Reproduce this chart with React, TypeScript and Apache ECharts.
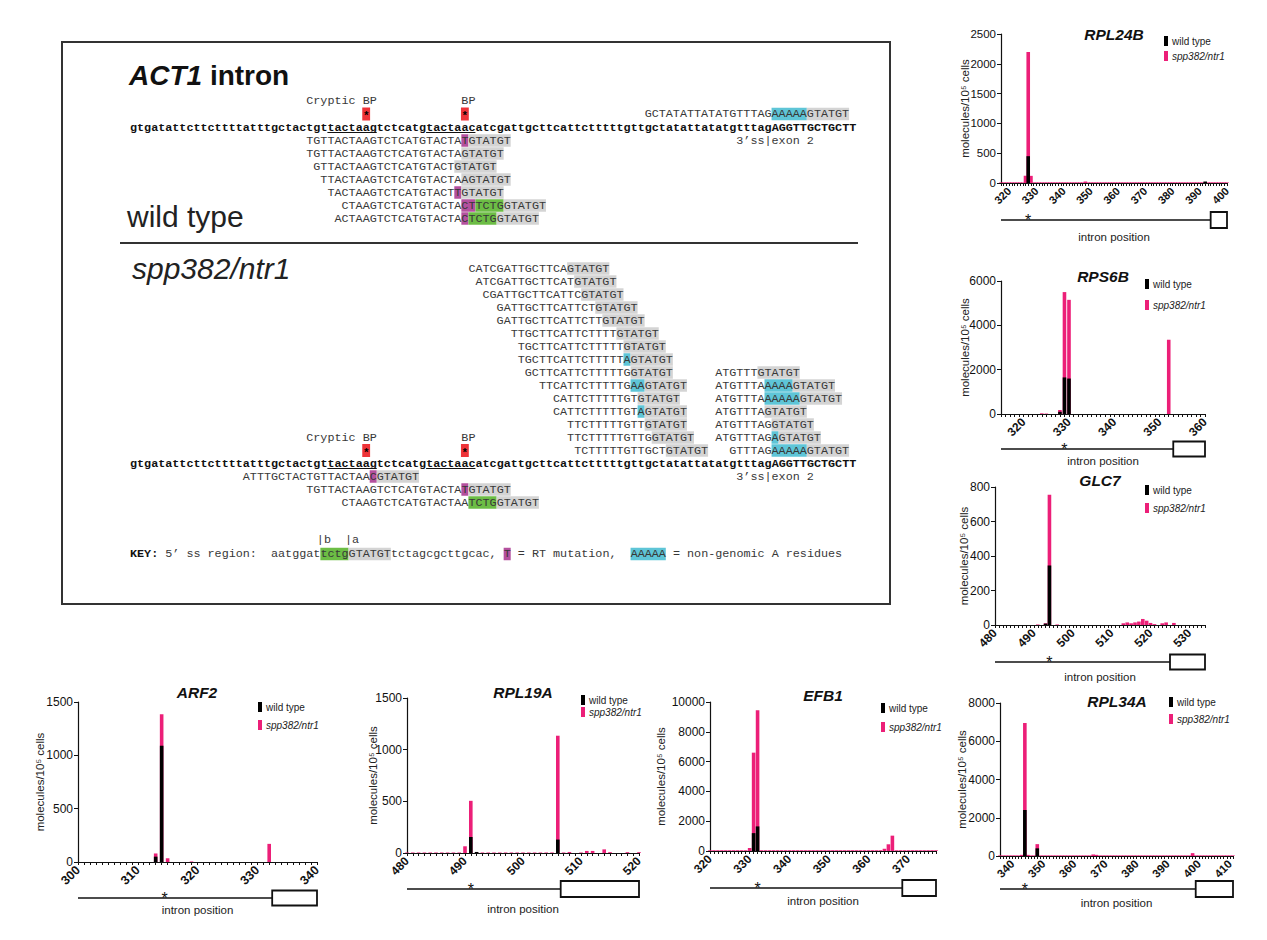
import React, { useEffect, useRef } from 'react';
import * as echarts from 'echarts';

// ================= CHART DATA =================
// sparse lists are [intron position, molecules/10^5 cells]; dense lists start at *_START
const ARF2_X_LABELS = [300, 310, 320, 330, 340];
const ARF2_WT: number[][] = [[313, 50], [314, 1090]];
const ARF2_MUT: number[][] = [[313, 80], [314, 1385], [315, 35], [319, 5], [332, 170]];

const RPL19A_X_LABELS = [480, 490, 500, 510, 520];
const RPL19A_WT: number[][] = [[491, 155], [492, 10], [506, 130]];
const RPL19A_MUT_START = 480;
const RPL19A_MUT = [
  5, 5, 5, 5, 5, 5, 5, 5, 5, 5,
  65, 505,
  5, 5, 5, 5, 5, 5, 5, 5, 5, 5, 5, 5, 5, 5,
  1135, 5, 10, 0, 5, 20, 20, 0, 35, 8, 0, 0, 8, 0, 8,
];

const EFB1_X_LABELS = [320, 330, 340, 350, 360, 370];
const EFB1_WT: number[][] = [[331, 1200], [332, 1650]];
const EFB1_MUT_START = 320;
const EFB1_MUT = [
  50, 50, 50, 50, 50, 50, 50, 50, 50, 50,
  200, 6600, 9450,
  50, 50, 50, 50, 50, 50, 50, 50, 50, 50,
  50, 50, 50, 50, 50, 50, 50, 50, 50, 50,
  50, 50, 50, 50, 50, 50, 50, 50, 50, 50,
  50,
  150, 450, 1030,
  50, 50, 50, 50, 50, 50, 50, 50, 50, 50, 50,
];

const RPL24B_X_LABELS = [320, 330, 340, 350, 360, 370, 380, 390, 400];
const RPL24B_WT: number[][] = [[327, 450], [392, 25]];
const RPL24B_MUT_START = 317;
const RPL24B_MUT = [
  10, 10, 10, 10, 10, 10, 10, 10, 10,
  120, 2200, 120,
  10, 10, 10, 10, 10, 10, 10, 10, 10, 10,
  10, 10, 10, 10, 10, 10, 10, 10, 10,
  25,
  10, 10, 10, 10, 10, 10, 10, 10, 10, 10,
  10, 10, 10, 10, 10, 10, 10, 10, 10, 10,
  10, 10, 10, 10, 10, 10, 10, 10, 10, 10,
  10, 10, 10, 10, 10, 10, 10, 10, 10, 10,
  10, 10, 10, 10, 10, 10, 10, 10, 10, 10,
  10, 10,
];

const RPS6B_X_LABELS = [320, 330, 340, 350, 360];
const RPS6B_WT: number[][] = [[328, 100], [329, 1650], [330, 1600]];
const RPS6B_MUT: number[][] = [[324, 30], [325, 20], [328, 180], [329, 5500], [330, 5150], [352, 3350]];

const GLC7_X_LABELS = [480, 490, 500, 510, 520, 530];
const GLC7_WT: number[][] = [[493, 8], [494, 345]];
const GLC7_MUT: number[][] = [
  [491, 3], [493, 10], [494, 755], [496, 3], [513, 10], [514, 15], [515, 10], [516, 15],
  [517, 20], [518, 35], [519, 25], [520, 12], [521, 5], [523, 10], [524, 15], [526, 12],
];

const RPL34A_X_LABELS = [340, 350, 360, 370, 380, 390, 400, 410];
const RPL34A_WT: number[][] = [[344, 2400], [348, 400]];
const RPL34A_MUT_START = 336;
const RPL34A_MUT = [
  30, 30, 30, 30, 30, 30, 30,
  60, 6950, 60,
  30, 30,
  620,
  30, 30, 30, 30, 30, 30, 30, 30, 30, 30,
  30, 30, 30, 30, 30, 30, 30,
  80, 60,
  30, 30, 30, 30, 30, 30, 30, 30, 30, 30,
  30, 30, 30, 30, 30, 30, 30, 30, 30, 30,
  30, 30, 30, 30, 30, 30, 30, 30, 30, 30,
  150,
  30, 30, 30, 30, 30, 30, 30, 30, 30, 30,
  30, 30, 30,
];

// intron diagram: 3' splice site (exon start) and branch-point asterisk positions
const EXON_STARTS = { RPL24B: 394, RPS6B: 353, GLC7: 525, RPL34A: 399, ARF2: 332.5, RPL19A: 506.5, EFB1: 368.5 };
const BP_POSITIONS = { RPL24B: 327, RPS6B: 329, GLC7: 494, RPL34A: 344, ARF2: 314.5, RPL19A: 491, EFB1: 332 };

const dense = (start: number, arr: number[]) => arr.map((v, i) => [start + i, v]);

const CHARTS = [
  { title: 'RPL24B', wt: RPL24B_WT, mut: dense(RPL24B_MUT_START, RPL24B_MUT), xMin: 317, xMax: 400, xLabels: RPL24B_X_LABELS, yMax: 2500, yStep: 500 },
  { title: 'RPS6B', wt: RPS6B_WT, mut: RPS6B_MUT, xMin: 315, xMax: 360, xLabels: RPS6B_X_LABELS, yMax: 6000, yStep: 2000 },
  { title: 'GLC7', wt: GLC7_WT, mut: GLC7_MUT, xMin: 480, xMax: 534, xLabels: GLC7_X_LABELS, yMax: 800, yStep: 200 },
  { title: 'RPL34A', wt: RPL34A_WT, mut: dense(RPL34A_MUT_START, RPL34A_MUT), xMin: 336, xMax: 411, xLabels: RPL34A_X_LABELS, yMax: 8000, yStep: 2000 },
  { title: 'ARF2', wt: ARF2_WT, mut: ARF2_MUT, xMin: 300, xMax: 340, xLabels: ARF2_X_LABELS, yMax: 1500, yStep: 500 },
  { title: 'RPL19A', wt: RPL19A_WT, mut: dense(RPL19A_MUT_START, RPL19A_MUT), xMin: 480, xMax: 520, xLabels: RPL19A_X_LABELS, yMax: 1500, yStep: 500 },
  { title: 'EFB1', wt: EFB1_WT, mut: dense(EFB1_MUT_START, EFB1_MUT), xMin: 320, xMax: 377, xLabels: EFB1_X_LABELS, yMax: 10000, yStep: 2000 },
];

// ================= SEQUENCE PANEL DATA =================
const GENOMIC = 'gtgatattcttcttttatttgctactgttactaagtctcatgtactaacatcgattgcttcattctttttgttgctatattatatgtttagAGGTTGCTGCTT';
const UNDERLINES = [[28, 7], [42, 7]];
const BP_MARKS = [33, 47];
// [start index on genomic, read, highlights [offset, length, kind]]
type Read = [number, string, [number, number, string][]];
const WT_TOP: Read = [73, 'GCTATATTATATGTTTAGAAAAAGTATGT', [[18, 5, 'b'], [23, 6, 'g']]];
const WT_READS: Read[] = [
  [25, 'TGTTACTAAGTCTCATGTACTATGTATGT', [[22, 1, 'm'], [23, 6, 'g']]],
  [25, 'TGTTACTAAGTCTCATGTACTAGTATGT', [[22, 6, 'g']]],
  [26, 'GTTACTAAGTCTCATGTACTGTATGT', [[20, 6, 'g']]],
  [27, 'TTACTAAGTCTCATGTACTAAGTATGT', [[20, 7, 'g']]],
  [28, 'TACTAAGTCTCATGTACTTGTATGT', [[18, 1, 'm'], [19, 6, 'g']]],
  [30, 'CTAAGTCTCATGTACTACTTCTGGTATGT', [[17, 2, 'm'], [19, 4, 'c'], [23, 6, 'g']]],
  [29, 'ACTAAGTCTCATGTACTACTCTGGTATGT', [[18, 1, 'm'], [19, 4, 'c'], [23, 6, 'g']]],
];
const SPP_READS_LEFT: Read[] = [
  [48, 'CATCGATTGCTTCAGTATGT', [[14, 6, 'g']]],
  [49, 'ATCGATTGCTTCATGTATGT', [[14, 6, 'g']]],
  [50, 'CGATTGCTTCATTCGTATGT', [[14, 6, 'g']]],
  [52, 'GATTGCTTCATTCTGTATGT', [[14, 6, 'g']]],
  [52, 'GATTGCTTCATTCTTGTATGT', [[15, 6, 'g']]],
  [54, 'TTGCTTCATTCTTTTGTATGT', [[15, 6, 'g']]],
  [55, 'TGCTTCATTCTTTTTGTATGT', [[15, 6, 'g']]],
  [55, 'TGCTTCATTCTTTTTAGTATGT', [[15, 1, 'b'], [16, 6, 'g']]],
  [56, 'GCTTCATTCTTTTTGGTATGT', [[15, 6, 'g']]],
  [58, 'TTCATTCTTTTTGAAGTATGT', [[13, 2, 'b'], [15, 6, 'g']]],
  [60, 'CATTCTTTTTGTGTATGT', [[12, 6, 'g']]],
  [60, 'CATTCTTTTTGTAGTATGT', [[12, 1, 'b'], [13, 6, 'g']]],
  [62, 'TTCTTTTTGTTGTATGT', [[11, 6, 'g']]],
  [62, 'TTCTTTTTGTTGGTATGT', [[12, 6, 'g']]],
  [63, 'TCTTTTTGTTGCTGTATGT', [[13, 6, 'g']]],
];
const SPP_READS_RIGHT: Read[] = [
  [83, 'ATGTTTGTATGT', [[6, 6, 'g']]],
  [83, 'ATGTTTAAAAAGTATGT', [[7, 4, 'b'], [11, 6, 'g']]],
  [83, 'ATGTTTAAAAAAGTATGT', [[7, 5, 'b'], [12, 6, 'g']]],
  [83, 'ATGTTTAGTATGT', [[7, 6, 'g']]],
  [83, 'ATGTTTAGGTATGT', [[8, 6, 'g']]],
  [83, 'ATGTTTAGAGTATGT', [[8, 1, 'b'], [9, 6, 'g']]],
  [85, 'GTTTAGAAAAAGTATGT', [[6, 5, 'b'], [11, 6, 'g']]],
];
const SPP_READS_BELOW: Read[] = [
  [16, 'ATTTGCTACTGTTACTAACGTATGT', [[18, 1, 'm'], [19, 6, 'g']]],
  [25, 'TGTTACTAAGTCTCATGTACTATGTATGT', [[22, 1, 'm'], [23, 6, 'g']]],
  [30, 'CTAAGTCTCATGTACTAATCTGGTATGT', [[18, 4, 'c'], [22, 6, 'g']]],
];
const KEY_TEXT = ' 5’ ss region:  aatggattctgGTATGTtctagcgcttgcac, T = RT mutation,  AAAAA = non-genomic A residues';
const KEY_HL: [number, number, string][] = [[27, 4, 'c'], [31, 6, 'g'], [53, 1, 'm'], [71, 5, 'b']];

// ================= LAYOUT / STYLE =================
const FONT = '"Liberation Sans", Arial, Helvetica, sans-serif';
const MONO = '"Liberation Mono", "DejaVu Sans Mono", monospace';
const PINK = '#ec1f78';
const INK = '#1e1e1e';
const HL_COLORS: Record<string, string> = { g: '#d4d4d4', m: '#b4509e', c: '#6cbd45', b: '#5ec5d7' };

const LAYOUT = [
  { grid: { left: 1001, top: 34, width: 226, height: 149 }, tx: 1114, ty: 34, lg: { left: 1164, top: 36, gap: 5 }, nameGap: 30, xFont: 11, yFont: 11.5, lineY: 220, boxH: 16, labelY: 237 },
  { grid: { left: 1001, top: 281, width: 204, height: 133 }, tx: 1103, ty: 276, lg: { left: 1145, top: 279, gap: 11 }, nameGap: 30, xFont: 12, yFont: 12, lineY: 449, boxH: 15, labelY: 461 },
  { grid: { left: 995, top: 487, width: 210, height: 138 }, tx: 1100, ty: 480, lg: { left: 1145, top: 485, gap: 8 }, nameGap: 25, xFont: 12, yFont: 12, lineY: 662, boxH: 15, labelY: 677 },
  { grid: { left: 1000, top: 703, width: 233, height: 153 }, tx: 1117, ty: 701, lg: { left: 1169, top: 697, gap: 7 }, nameGap: 32, xFont: 11.5, yFont: 12, lineY: 889, boxH: 16, labelY: 903 },
  { grid: { left: 78, top: 702, width: 239, height: 160 }, tx: 197, ty: 692, lg: { left: 258, top: 702, gap: 8 }, nameGap: 32, xFont: 12.5, yFont: 12, lineY: 898, boxH: 15, labelY: 910 },
  { grid: { left: 407, top: 698, width: 232, height: 155 }, tx: 523, ty: 692, lg: { left: 581, top: 695, gap: 2 }, nameGap: 28, xFont: 12, yFont: 12, lineY: 889, boxH: 16, labelY: 909 },
  { grid: { left: 710, top: 702, width: 226, height: 149 }, tx: 823, ty: 695, lg: { left: 881, top: 703, gap: 9 }, nameGap: 43, xFont: 12, yFont: 12, lineY: 888, boxH: 16, labelY: 901 },
];

const X0 = 130;
const CW = 7.05;
const FS = 11.75;
const WT_ROWS = { label: 101, top: 114, main: 127.5, first: 140.5 };
const SPP_ROWS = { first: 268.5, label: 437.5, bp: 450.5, main: 463.5, below: 476.5 };
const STEP = 13;

function txt(x: number, y: number, text: string, s: any = {}) {
  return {
    type: 'text', x, y, z: 10, silent: true,
    style: {
      text, fontFamily: s.fontFamily || FONT, fontSize: s.fontSize || 12,
      fontWeight: s.fontWeight || 'normal', fontStyle: s.fontStyle || 'normal',
      fill: s.fill || INK, align: s.align || 'left', verticalAlign: 'middle',
      textAlign: s.align || 'left', textVerticalAlign: 'middle', rich: s.rich,
    },
  };
}
function mono(col: number, y: number, text: string, bold = false, fill = '#383838') {
  return txt(X0 + col * CW, y, text.replace(/ /g, '\u00a0'), { fontFamily: MONO, fontSize: FS, fontWeight: bold ? 'bold' : 'normal', fill });
}
function hlRect(col: number, y: number, len: number, fill: string) {
  return { type: 'rect', z: 5, silent: true, shape: { x: X0 + col * CW, y: y - 6.25, width: len * CW, height: 12.5 }, style: { fill } };
}
function readEls(r: Read, y: number) {
  const [start, seq, hl] = r;
  const els: any[] = hl.map(([o, l, k]) => hlRect(start + o, y, l, HL_COLORS[k]));
  els.push(mono(start, y, seq));
  return els;
}
function bpBlock(labelY: number, boxY: number, mainY: number) {
  const els: any[] = [];
  els.push(mono(BP_MARKS[0] - 8, labelY, 'Cryptic BP'));
  els.push(mono(BP_MARKS[1], labelY, 'BP'));
  BP_MARKS.forEach((c) => {
    els.push({ type: 'rect', z: 5, silent: true, shape: { x: X0 + c * CW - 0.4, y: boxY - 6.5, width: CW + 0.8, height: 13 }, style: { fill: '#ee3338' } });
    els.push(txt(X0 + (c + 0.5) * CW, boxY + 2, '*', { fontFamily: MONO, fontSize: 11, align: 'center', fill: '#000', fontWeight: 'bold' }));
  });
  els.push(mono(0, mainY, GENOMIC, true, '#111'));
  UNDERLINES.forEach(([c, l]) => {
    els.push({ type: 'line', z: 10, silent: true, shape: { x1: X0 + c * CW, y1: mainY + 5, x2: X0 + (c + l) * CW, y2: mainY + 5 }, style: { stroke: '#111', lineWidth: 1 } });
  });
  els.push(mono(86, mainY + STEP, '3’ss|exon 2'));
  return els;
}

function panelElements() {
  const els: any[] = [];
  els.push({ type: 'rect', z: 1, silent: true, shape: { x: 62, y: 42, width: 828, height: 562 }, style: { fill: '#fff', stroke: '#333', lineWidth: 2 } });
  els.push({ type: 'line', z: 2, silent: true, shape: { x1: 120, y1: 243, x2: 858, y2: 243 }, style: { stroke: '#333', lineWidth: 2 } });
  els.push(txt(129, 75, '{a|ACT1} {b|intron}', {
    fontSize: 28, fontWeight: 'bold',
    rich: { a: { fontSize: 28, fontWeight: 'bold', fontStyle: 'italic', fontFamily: FONT, fill: '#111' }, b: { fontSize: 28, fontWeight: 'bold', fontFamily: FONT, fill: '#111' } },
  }));
  els.push(txt(127, 216.5, 'wild type', { fontSize: 30, fill: '#222' }));
  els.push(txt(132, 268.5, 'spp382/ntr1', { fontSize: 30, fontStyle: 'italic', fill: '#222' }));

  // wild type block
  els.push(...bpBlock(WT_ROWS.label, WT_ROWS.top, WT_ROWS.main));
  els.push(...readEls(WT_TOP, WT_ROWS.top));
  WT_READS.forEach((r, i) => els.push(...readEls(r, WT_ROWS.first + i * STEP)));

  // spp382 block
  SPP_READS_LEFT.forEach((r, i) => els.push(...readEls(r, SPP_ROWS.first + i * STEP)));
  const rightFirst = SPP_READS_LEFT.length - SPP_READS_RIGHT.length;
  SPP_READS_RIGHT.forEach((r, i) => els.push(...readEls(r, SPP_ROWS.first + (rightFirst + i) * STEP)));
  els.push(...bpBlock(SPP_ROWS.label, SPP_ROWS.bp, SPP_ROWS.main));
  SPP_READS_BELOW.forEach((r, i) => els.push(...readEls(r, SPP_ROWS.below + i * STEP)));

  // key
  const keyY = 554;
  KEY_HL.forEach(([c, l, k]) => els.push(hlRect(c, keyY, l, HL_COLORS[k])));
  els.push(mono(0, keyY, 'KEY:', true, '#111'));
  els.push(mono(4, keyY, KEY_TEXT));
  els.push(mono(26.5, 540, '|b'));
  els.push(mono(30.5, 540, '|a'));
  return els;
}

function buildOption() {
  const grid: any[] = [], xAxis: any[] = [], yAxis: any[] = [], series: any[] = [], legend: any[] = [];
  CHARTS.forEach((c, i) => {
    const L = LAYOUT[i];
    grid.push({ ...L.grid, containLabel: false });
    const ticks: number[] = [];
    for (let v = Math.ceil(c.xMin); v <= c.xMax; v++) ticks.push(v);
    xAxis.push({
      type: 'value', gridIndex: i, min: c.xMin, max: c.xMax,
      axisLine: { show: true, onZero: false, lineStyle: { color: '#111', width: 1.2 } },
      axisTick: { show: true, customValues: ticks, length: 3, lineStyle: { color: '#111', width: 1 } },
      axisLabel: { customValues: c.xLabels, rotate: 45, margin: 6, fontSize: L.xFont, fontWeight: 'bold', color: '#111', fontFamily: FONT, formatter: (v: number) => String(v) },
      splitLine: { show: false },
    });
    yAxis.push({
      type: 'value', gridIndex: i, min: 0, max: c.yMax, interval: c.yStep,
      axisLine: { show: true, lineStyle: { color: '#111', width: 1.2 } },
      axisTick: { show: true, length: 4, lineStyle: { color: '#111', width: 1 } },
      axisLabel: { fontSize: L.yFont, color: '#111', margin: 5, fontFamily: FONT, formatter: (v: number) => String(v) },
      splitLine: { show: false },
      name: 'molecules/10⁵ cells', nameLocation: 'middle', nameGap: L.nameGap, nameMoveOverlap: false,
      nameTextStyle: { fontSize: 11.5, color: '#222', fontFamily: FONT },
    });
    series.push({
      type: 'bar', name: 'spp382/ntr1', xAxisIndex: i, yAxisIndex: i, data: c.mut,
      barWidth: 3.6, barGap: '-100%', itemStyle: { color: PINK }, z: 2, silent: true,
    });
    series.push({
      type: 'bar', name: 'wild type', xAxisIndex: i, yAxisIndex: i, data: c.wt,
      barWidth: 3.6, barGap: '-100%', itemStyle: { color: '#000' }, z: 3, silent: true,
    });
    legend.push({
      orient: 'vertical', left: L.lg.left, top: L.lg.top, itemGap: L.lg.gap,
      itemWidth: 4, itemHeight: 10, icon: 'rect', selectedMode: false, padding: 0,
      textStyle: { fontSize: 10, color: '#222', fontFamily: FONT, padding: [0, 0, 0, -1] },
      data: [{ name: 'wild type' }, { name: 'spp382/ntr1', textStyle: { fontStyle: 'italic' } }],
    });
  });
  return { animation: false, backgroundColor: '#fff', textStyle: { fontFamily: FONT }, grid, xAxis, yAxis, series, legend };
}

function chartDecorations(chart: any) {
  const els: any[] = [];
  CHARTS.forEach((c, i) => {
    const L = LAYOUT[i];
    const key = c.title as keyof typeof EXON_STARTS;
    const px = (v: number) => chart.convertToPixel({ xAxisIndex: i }, v) as number;
    const x0 = px(c.xMin), xe = px(EXON_STARTS[key]), x2 = px(c.xMax), xb = px(BP_POSITIONS[key]);
    els.push(txt(L.tx, L.ty, c.title, { fontSize: 15.5, fontWeight: 'bold', fontStyle: 'italic', align: 'center', fill: '#111' }));
    els.push({ type: 'line', z: 10, silent: true, shape: { x1: x0, y1: L.lineY, x2: xe, y2: L.lineY }, style: { stroke: '#111', lineWidth: 1.5 } });
    els.push({ type: 'rect', z: 10, silent: true, shape: { x: xe, y: L.lineY - L.boxH / 2, width: x2 - xe, height: L.boxH }, style: { fill: '#fff', stroke: '#111', lineWidth: 1.8 } });
    els.push(txt(xb, L.lineY, '*', { fontSize: 16, align: 'center', fill: '#111' }));
    els.push(txt((x0 + x2) / 2, L.labelY, 'intron position', { fontSize: 11.5, align: 'center', fill: '#222' }));
  });
  return els;
}

export default function App() {
  const ref = useRef<HTMLDivElement>(null);
  useEffect(() => {
    document.body.style.margin = '0';
    const chart = echarts.init(ref.current as HTMLDivElement, null, { renderer: 'svg', width: 1267, height: 940 });
    chart.setOption(buildOption());
    chart.setOption({ graphic: { elements: [...panelElements(), ...chartDecorations(chart)] } });
    return () => chart.dispose();
  }, []);
  return <div ref={ref} style={{ width: 1267, height: 940, background: '#fff' }} />;
}
